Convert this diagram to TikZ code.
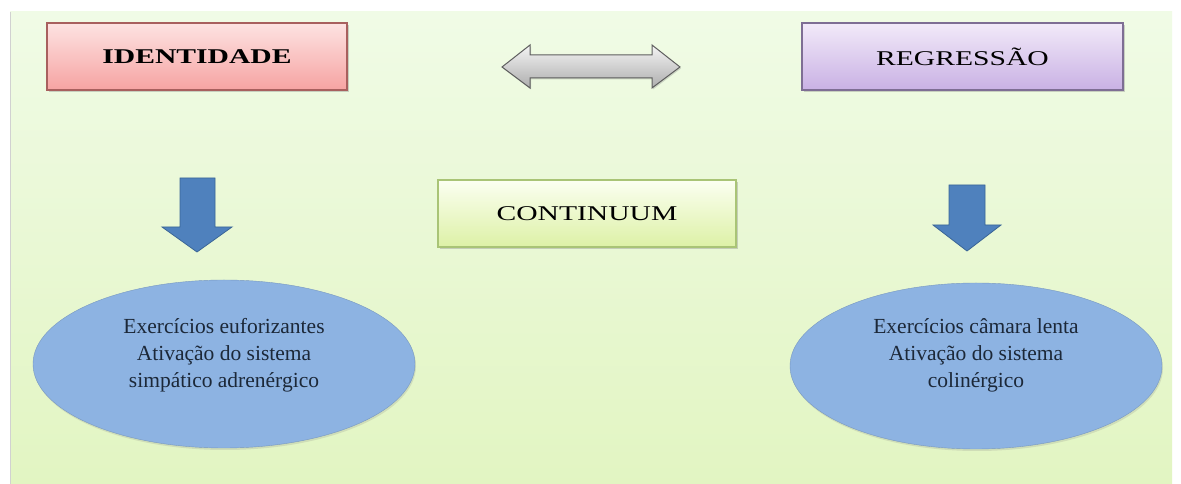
\documentclass[tikz,border=0pt]{standalone}
\usepackage{fontspec}
\setmainfont{Liberation Serif}
\usepackage{graphicx}
\usetikzlibrary{shadows,shapes.geometric}

\definecolor{panelTop}{HTML}{F0FBE6}
\definecolor{panelBot}{HTML}{E2F5C2}
\definecolor{pinkTop}{HTML}{FDE3E2}
\definecolor{pinkBot}{HTML}{F6A3A2}
\definecolor{pinkLine}{HTML}{A8605E}
\definecolor{lilacTop}{HTML}{F2EAF9}
\definecolor{lilacBot}{HTML}{C9B1E4}
\definecolor{lilacLine}{HTML}{7E6E94}
\definecolor{limeTop}{HTML}{FBFFF1}
\definecolor{limeBot}{HTML}{DDF1A6}
\definecolor{limeLine}{HTML}{A9C476}
\definecolor{blueFill}{HTML}{4F81BD}
\definecolor{blueLine}{HTML}{3A6596}
\definecolor{ovalFill}{HTML}{8DB3E2}
\definecolor{ovalText}{HTML}{1C2838}
\definecolor{greyTop}{HTML}{F4F4F4}
\definecolor{greyBot}{HTML}{ADADAD}
\definecolor{greyLine}{HTML}{5E5E5E}

\newcommand{\widetitle}[1]{\scalebox{1.41}[1]{#1}}

\tikzset{
  x=1pt, y=1pt,
  titlebox/.style={rectangle, minimum width=#1, minimum height=67pt,
    line width=1.1pt, inner sep=0pt,
    drop shadow={shadow xshift=1.5pt, shadow yshift=-2pt, opacity=0.35},
    font=\fontsize{21}{25}\selectfont},
  oval/.style={ellipse, fill=ovalFill, draw=ovalFill!85!black, line width=0.4pt,
    drop shadow={shadow xshift=1pt, shadow yshift=-2pt, opacity=0.2},
    inner sep=0pt},
  ovaltext/.style={align=center, text=ovalText,
    font=\fontsize{21.5}{27}\selectfont},
  downarrow/.style={fill=blueFill, draw=blueLine, line width=0.8pt, line join=miter},
  twoway/.style={top color=greyTop, bottom color=greyBot, draw=greyLine,
    line width=1pt, line join=miter,
    drop shadow={shadow xshift=1pt, shadow yshift=-1.5pt, opacity=0.3}}
}

\begin{document}
\begin{tikzpicture}
  % page and green panel
  \useasboundingbox (0,0) rectangle (1181,484);
  \fill[white] (0,0) rectangle (1181,484);
  \shade[top color=panelTop, bottom color=panelBot] (10,0) rectangle (1172,472);
  \draw[black!18, line width=1pt] (10,0) -- (10,472);

  % heading boxes
  \node[titlebox=300pt, top color=pinkTop, bottom color=pinkBot, draw=pinkLine]
    (ident) at (197,427.5) {\widetitle{\textbf{IDENTIDADE}}};
  \node[titlebox=321pt, top color=lilacTop, bottom color=lilacBot, draw=lilacLine]
    (regr) at (962.5,427.5) {\widetitle{REGRESSÃO}};
  \node[titlebox=298pt, top color=limeTop, bottom color=limeBot, draw=limeLine]
    (cont) at (587,270.5) {\widetitle{CONTINUUM}};

  % grey two-way block arrow between the headings
  \path[twoway] (502,417) -- (530,439) -- (530,429) -- (652,429) -- (652,439)
    -- (680,417) -- (652,396) -- (652,406) -- (530,406) -- (530,396) -- cycle;

  % blue down block arrows
  \path[downarrow] (180,306) -- (215,306) -- (215,257) -- (232,257) -- (197,232)
    -- (162,257) -- (180,257) -- cycle;
  \path[downarrow] (949,299) -- (985,299) -- (985,259) -- (1001,259) -- (967,233)
    -- (933,259) -- (949,259) -- cycle;

  % ovals
  \node[oval, minimum width=382pt, minimum height=168pt] (left) at (224,120) {};
  \node[ovaltext] (lefttext) at (224,129)
    {Exercícios euforizantes\\Ativação do sistema\\simpático adrenérgico};
  \node[oval, minimum width=372pt, minimum height=166pt] (right) at (976,118) {};
  \node[ovaltext] (righttext) at (976,129)
    {Exercícios câmara lenta\\Ativação do sistema\\colinérgico};
\end{tikzpicture}
\end{document}
